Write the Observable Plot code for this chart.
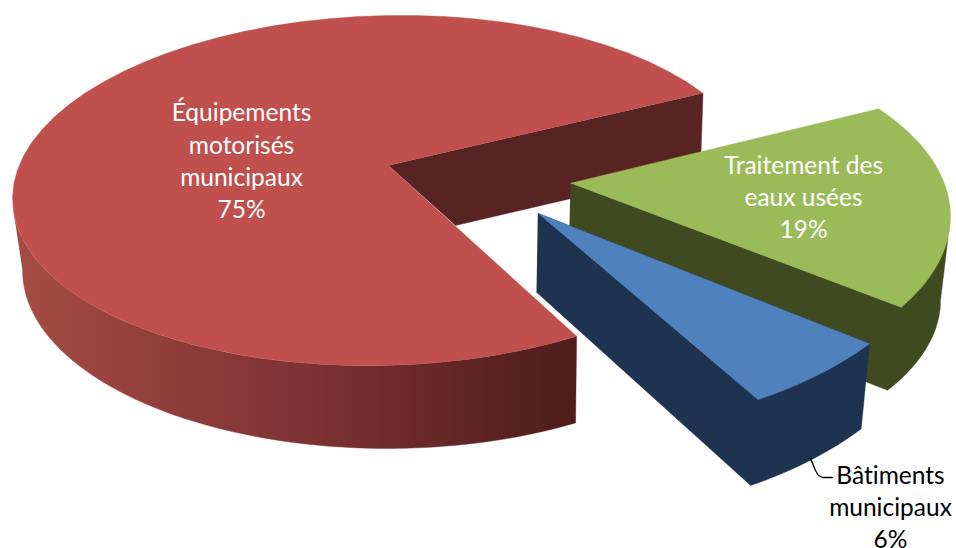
<!DOCTYPE html>
<html lang="fr">
<head>
<meta charset="utf-8">
<style>html,body{margin:0;padding:0;background:#fff}svg{display:block}svg text{font-variant-ligatures:none}</style>
<script src="https://cdn.jsdelivr.net/npm/d3@7"></script>
<script src="https://cdn.jsdelivr.net/npm/@observablehq/plot@0.6"></script>
</head>
<body>
<div id="chart"></div>
<script>
// Data
const sliceNames = ["Équipements\nmotorisés\nmunicipaux", "Traitement des\neaux usées", "Bâtiments\nmunicipaux"];
const sliceShares = [75, 19, 6];

// Colours: top face, wall
const topColors = ["#c0504d", "#9bbb59", "#4f81bd"];
const wallColors = ["#582423", "#3f4a20", "#1e3350"];
const labelColors = ["#fff", "#fff", "#000"];

// Layout of the 3D view: ellipse of top and bottom rims, pie apex, start parameter
const view = [
  {t0: 58.9, apex: [388, 165], apexLow: [455, 225],
   top: {cx: 384, cy: 190, rx: 372, ry: 175, s: -8}, low: {cx: 386.7, cy: 270, rx: 364.7, ry: 178, s: 0}},
  {t0: -37.5, apex: [570, 182.7], apexLow: [568, 265],
   top: {cx: 602, cy: 216, rx: 348, ry: 177, s: 0}, low: {cx: 567, cy: 300, rx: 373, ry: 175, s: 0}},
  {t0: 37.2, apex: [537.3, 212.7], apexLow: [536, 291.7],
   top: {cx: 549.6, cy: 208.5, rx: 401, ry: 223, s: 0}, low: {cx: 544.5, cy: 291.7, rx: 397, ry: 226, s: 0}}
];
const redWallCorner = [700, 168];
const labelAt = [[241, 159], [803, 195], [890, 505]];

const rad = Math.PI / 180;
const rim = (e, t) => ({x: e.cx + e.rx * Math.cos(t * rad), y: e.cy + e.ry * Math.sin(t * rad) + e.s * Math.cos(t * rad)});
const sweep = i => sliceShares[i] * 3.6;
const arc = (e, a, b) => d3.range(0, 61).map(k => rim(e, a + (b - a) * k / 60));
const pt = p => ({x: p[0], y: p[1]});

const face = i => {
  const v = view[i], a = v.t0, b = a + sweep(i);
  return [pt(v.apex), ...arc(v.top, a, b)];
};
const shape = (pts, fill) => Plot.line(pts, {x: "x", y: "y", fill, stroke: fill, strokeWidth: 0.4, curve: "linear"});

const gradient = () => {
  const svg = d3.create("svg:defs");
  const g = svg.append("linearGradient").attr("id", "redSide").attr("gradientUnits", "userSpaceOnUse")
    .attr("x1", 12).attr("x2", 577).attr("y1", 0).attr("y2", 0);
  [[0, "#a64c45"], [0.5, "#803334"], [1, "#4d1c1b"]].forEach(([o, c]) =>
    g.append("stop").attr("offset", o).attr("stop-color", c));
  return svg.node();
};

// Red slice
const red = view[0], redEnd = red.t0 + sweep(0);
const redInner = [pt(red.apex), rim(red.top, redEnd), pt(redWallCorner), pt(red.apexLow)];
const redSide = [...arc(red.top, 175, red.t0), ...arc(red.low, red.t0, 180)];
// Green slice
const green = view[1], greenEnd = green.t0 + sweep(1);
const greenBody = [pt(green.apex), rim(green.top, 6.8), ...arc(green.low, 0, greenEnd), pt(green.apexLow)];
// Blue slice
const blue = view[2], blueEnd = blue.t0 + sweep(2);
const blueBody = [pt(blue.apex), rim(blue.top, blue.t0), ...arc(blue.low, blue.t0, blueEnd), pt(blue.apexLow)];

const labels = sliceNames.map((n, i) => ({text: `${n}\n${sliceShares[i]}%`, x: labelAt[i][0], y: labelAt[i][1], color: labelColors[i]}));
const leader = [[810, 458], [815, 470], [818, 475], [822, 477], [832, 477]].map(pt);

const chart = Plot.plot({
  width: 956, height: 548, margin: 0,
  style: {background: "#fff"},
  x: {type: "linear", domain: [0, 956], range: [0, 956], axis: null},
  y: {type: "linear", domain: [0, 548], range: [0, 548], axis: null},
  marks: [
    gradient,
    shape(redInner, wallColors[0]),
    shape(redSide, "url(#redSide)"),
    shape(face(0), topColors[0]),
    shape(greenBody, wallColors[1]),
    shape(face(1), topColors[1]),
    shape(blueBody, wallColors[2]),
    shape(face(2), topColors[2]),
    Plot.line(leader, {x: "x", y: "y", stroke: "#000", strokeWidth: 1.3}),
    Plot.text(labels, {x: "x", y: "y", text: "text", fill: "color", fontFamily: "Lato", fontSize: 24.5, lineHeight: 1.32, textAnchor: "middle"})
  ]
});
document.getElementById("chart").append(chart);
</script>
</body>
</html>
